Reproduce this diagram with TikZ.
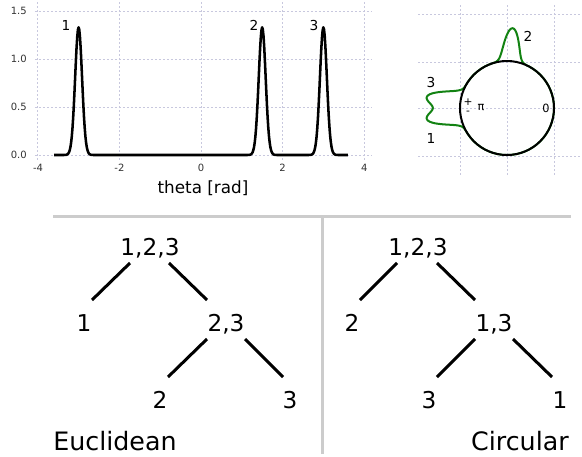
\documentclass[tikz,border=0pt]{standalone}
\usepackage{fontspec}
\setmainfont{DejaVu Sans}
\usetikzlibrary{
    calc,       % For branch end points
}
\definecolor{gridgray}{RGB}{200,200,222}
\definecolor{divgray}{RGB}{204,204,204}
\definecolor{kdegreen}{RGB}{18,130,18}
\definecolor{ticktext}{RGB}{50,50,50}

\begin{document}
\begin{tikzpicture}[
    x=0.75pt, y=-0.75pt, % one unit = one pixel, y pointing down
    gridline/.style={gridgray, line width=0.75pt, dash pattern=on 1.5pt off 1.5pt},
    density/.style={line width=1.9pt, line join=round}, % kde curves
    ticklabel/.style={ticktext, font=\fontsize{7.5}{9}\selectfont, inner sep=0pt},
    peaklabel/.style={font=\fontsize{10.3}{12}\selectfont, inner sep=0pt},
    treenode/.style={font=\fontsize{17.4}{20}\selectfont, inner sep=0pt, text depth=0pt},
    branch/.style={line width=2.25pt},
    divider/.style={divgray, line width=2.25pt},
    caption/.style={font=\fontsize{19}{22}\selectfont, inner sep=0pt},
    declare function={
        bump(\t,\m)=exp(-((\t-\m)/0.1202)^2);  % gaussian, theta in rad
        cbump(\t,\m)=exp(-((\t-\m)/8.485)^2);  % gaussian, theta in deg
    }
]
    \useasboundingbox (0,0) rectangle (582,457);

    % --- Density over theta ---
    \begin{scope}[shift={(201,155)}, xscale=40.8, yscale=-96]
        \foreach \gx in {-4,-2,...,4}
            \draw[gridline] (\gx,-0.05) -- (\gx,1.6);
        \foreach \gy in {0,0.5,1,1.5}
            \draw[gridline] (-4.07,\gy) -- (4.17,\gy);
        \draw[density] plot[domain=-3.6:3.6, samples=433]
            (\x,{1.33*(bump(\x,-3)+bump(\x,1.5)+bump(\x,3))});
    \end{scope}

    % Tick labels
    \foreach \val/\ypos in {0.0/155, 0.5/107, 1.0/59, 1.5/11}
        \node[ticklabel, anchor=east] at (27,\ypos) {\val};
    \foreach \val/\xpos in {-4/38, -2/119.4, 0/201, 2/282.6, 4/364.2}
        \node[ticklabel] at (\xpos,168) {\val};

    \node[peaklabel] (lone) at (66,25) {1};
    \node[peaklabel] (ltwo) at (254,25) {2};
    \node[peaklabel] (lthree) at (314,25) {3};
    \node[font=\fontsize{12.6}{15}\selectfont, anchor=base] (xlabel) at (203,193) {theta [rad]};

    % --- Density on the circle ---
    \foreach \gx in {460,507,554}
        \draw[gridline] (\gx,5) -- (\gx,177);
    \foreach \gy in {14,62,108,156}
        \draw[gridline] (418,\gy) -- (582,\gy);

    \coordinate (pc) at (507,108);
    \begin{scope}[shift={(pc)}, yscale=-1]
        \draw[density, kdegreen, line width=1.5pt] plot[domain=0:360, samples=361]
            (\x:{47+33*(cbump(\x,86)+cbump(\x,172)+cbump(\x,188))});
        \draw[line width=1.5pt] (0,0) circle (47);
    \end{scope}

    \node[peaklabel] (ctwolab) at (528,36) {2};
    \node[peaklabel] (cthreelab) at (431,82) {3};
    \node[peaklabel] (conelab) at (431,138) {1};
    \node[font=\fontsize{8.5}{10}\selectfont, inner sep=0pt] (zero) at (546,108) {0};
    \node[font=\fontsize{8.5}{10}\selectfont, inner sep=0pt] (pi) at (481,108) {π};
    \node[font=\fontsize{8}{9}\selectfont, inner sep=0pt] (plus) at (468,102) {+};
    \node[font=\fontsize{8}{9}\selectfont, inner sep=0pt] (minus) at (468,113) {-};

    % --- Dendrograms ---
    \draw[divider] (53,216) -- (571,216);
    \draw[divider] (322,216) -- (322,454);

    \node[treenode] (eroot) at (150,247) {1,2,3};
    \node[treenode] (eone) at (84,323) {1};
    \node[treenode] (etwothree) at (226,323) {2,3};
    \node[treenode] (etwo) at (160,400) {2};
    \node[treenode] (ethree) at (290,400) {3};

    \node[treenode] (croot) at (418,247) {1,2,3};
    \node[treenode] (ctwo) at (352,323) {2};
    \node[treenode] (conethree) at (494,323) {1,3};
    \node[treenode] (cthree) at (429,400) {3};
    \node[treenode] (cone) at (560,400) {1};

    \foreach \up/\down/\dx/\kdx in {eroot/eone/-20/8, eroot/etwothree/19/-19,
            etwothree/etwo/-19/8, etwothree/ethree/19/-7,
            croot/ctwo/-21/8, croot/conethree/19/-19,
            conethree/cthree/-19/8, conethree/cone/19/-8}
        \draw[branch] ($(\up)+(\dx,16)$) -- ($(\down)+(\kdx,-23)$);

    \node[caption, anchor=base west] (euclid) at (53,450) {Euclidean};
    \node[caption, anchor=base east] (circ) at (569,450) {Circular};

\end{tikzpicture}
\end{document}
